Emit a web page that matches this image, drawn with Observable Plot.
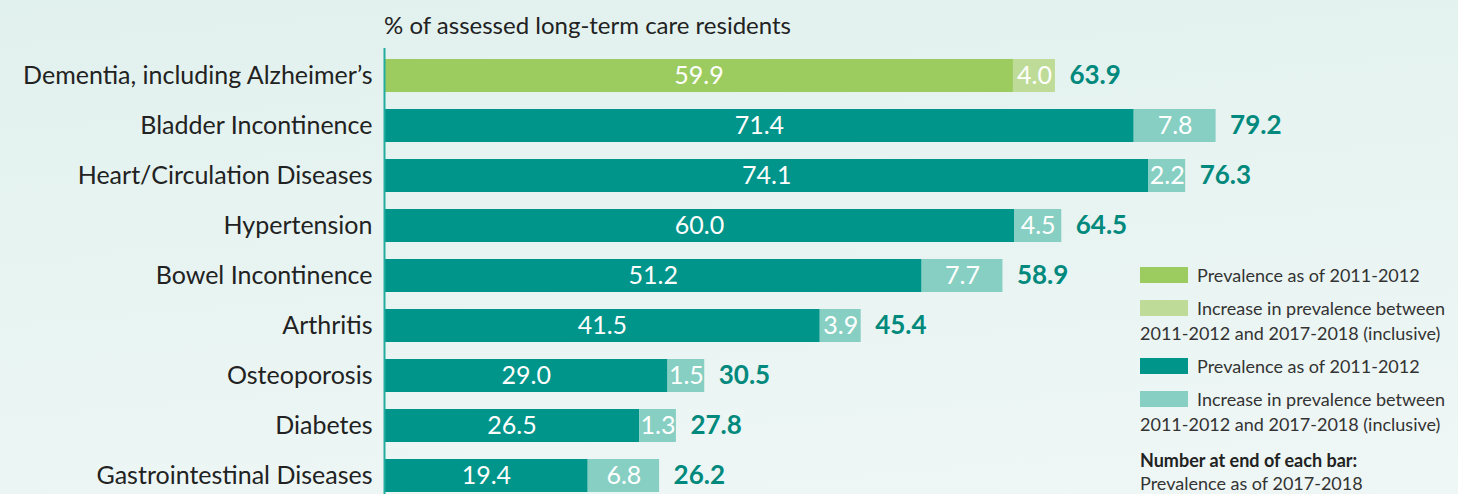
<!DOCTYPE html>
<html>
<head>
<meta charset="utf-8">
<script src="https://cdn.jsdelivr.net/npm/d3@7"></script>
<script src="https://cdn.jsdelivr.net/npm/@observablehq/plot@0.6"></script>
<style>
  html, body { margin: 0; padding: 0; }
  body {
    width: 1458px; height: 494px; overflow: hidden;
    background: linear-gradient(175deg, #e1f1ee 0%, #e8f4f2 50%, #eff7f6 100%);
    font-family: Lato, "Open Sans", sans-serif; color: #222;
  }
  #wrap { position: relative; width: 1458px; height: 494px; }
  #title { position: absolute; left: 384px; top: 10px; font-size: 24px; line-height: 30px; color: #222; white-space: nowrap; }
  #legend { position: absolute; left: 0; top: 0; width: 1458px; height: 494px; font-size: 18px; color: #333; }
  .lrow { position: absolute; left: 1140px; height: 24px; line-height: 24px; white-space: nowrap; display: flex; align-items: center; }
  .sw { width: 48px; height: 16px; margin-right: 9px; flex: none; }
  .note { font-weight: 700; color: #222; }
</style>
</head>
<body>
<div id="wrap">
  <div id="title"></div>
  <div id="chart"></div>
  <div id="legend"></div>
</div>
<script>
const categories = [
  "Dementia, including Alzheimer\u2019s",
  "Bladder Incontinence",
  "Heart/Circulation Diseases",
  "Hypertension",
  "Bowel Incontinence",
  "Arthritis",
  "Osteoporosis",
  "Diabetes",
  "Gastrointestinal Diseases"
];
const prevalence2011 = [59.9, 71.4, 74.1, 60.0, 51.2, 41.5, 29.0, 26.5, 19.4];
const increase = [4.0, 7.8, 2.2, 4.5, 7.7, 3.9, 1.5, 1.3, 6.8];
const prevalence2017 = [63.9, 79.2, 76.3, 64.5, 58.9, 45.4, 30.5, 27.8, 26.2];
const titleText = "% of assessed long-term care residents";
const legendBase = "Prevalence as of 2011-2012";
const legendInc1 = "Increase in prevalence between";
const legendInc2 = "2011-2012 and 2017-2018 (inclusive)";
const noteLine1 = "Number at end of each bar:";
const noteLine2 = "Prevalence as of 2017-2018";

const greenBase = "#9ccc5f", greenInc = "#bedc97";
const tealBase = "#00958a", tealInc = "#86cfc2";
const totalColor = "#00897c";
// as in the original design, a small increase segment is drawn with a minimum width so its label fits
const minIncreaseWidth = 3.5;

const segs = categories.flatMap((c, i) => {
  const split = Math.min(prevalence2011[i], prevalence2017[i] - minIncreaseWidth);
  return [
    {cat: c, x1: 0, x2: split, v: prevalence2011[i], fill: i === 0 ? greenBase : tealBase},
    {cat: c, x1: split, x2: prevalence2017[i], v: increase[i], fill: i === 0 ? greenInc : tealInc}
  ];
});
const tots = categories.map((c, i) => ({cat: c, x: prevalence2017[i]}));
const fmt = d3.format(".1f");

const chart = Plot.plot({
  width: 1458,
  height: 494,
  marginLeft: 384,
  marginRight: 24,
  marginTop: 56,
  marginBottom: 0,
  style: {background: "transparent", fontFamily: "Lato, sans-serif", color: "#222", overflow: "visible"},
  x: {domain: [0, 100], axis: null},
  y: {domain: categories, paddingInner: 0.35, paddingOuter: 0, label: null},
  color: {type: "identity"},
  marks: [
    Plot.barX(segs, {y: "cat", x1: "x1", x2: "x2", fill: "fill"}),
    Plot.text(segs, {y: "cat", x: d => (d.x1 + d.x2) / 2, text: d => fmt(d.v), fill: "white", fontSize: 25}),
    Plot.text(tots, {y: "cat", x: "x", text: d => fmt(d.x), dx: 14, textAnchor: "start", fill: totalColor, fontSize: 26, fontWeight: "bold"}),
    Plot.ruleX([0], {stroke: "#22aca0", strokeWidth: 2, insetTop: -8}),
    Plot.axisY({tickSize: 0, tickPadding: 12, fontSize: 25, label: null})
  ]
});
document.getElementById("chart").append(chart);
document.getElementById("title").textContent = titleText;

const lg = document.getElementById("legend");
function item(centerY, color, text, cls) {
  const r = document.createElement("div");
  r.className = "lrow" + (cls ? " " + cls : "");
  r.style.top = (centerY - 12) + "px";
  if (color) {
    const s = document.createElement("span"); s.className = "sw"; s.style.background = color; r.append(s);
  }
  const t = document.createElement("span"); t.textContent = text; r.append(t);
  lg.append(r);
}
item(275, greenBase, legendBase);
item(308, greenInc, legendInc1);
item(333, null, legendInc2);
item(366, tealBase, legendBase);
item(399, tealInc, legendInc1);
item(424, null, legendInc2);
item(460, null, noteLine1, "note");
item(483, null, noteLine2);
</script>
</body>
</html>
